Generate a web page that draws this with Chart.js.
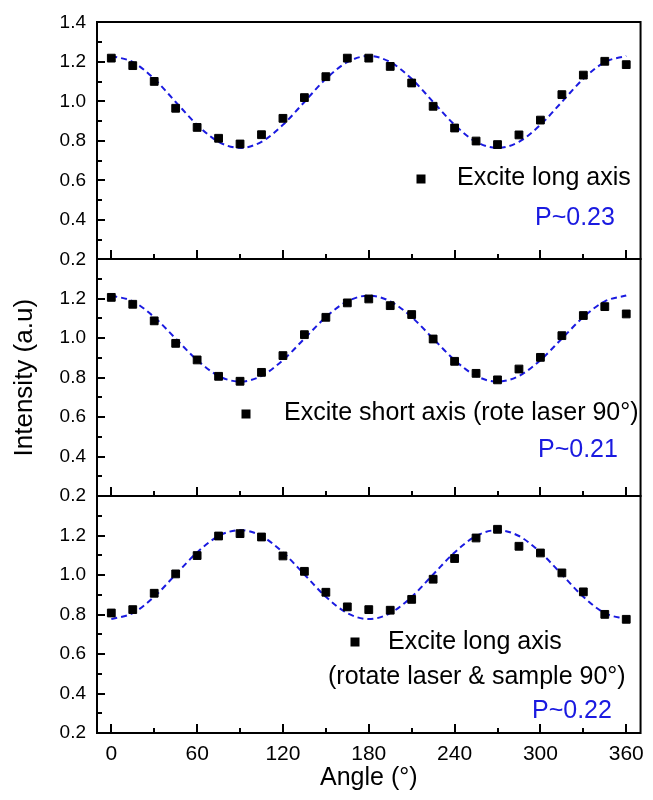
<!DOCTYPE html>
<html>
<head>
<meta charset="utf-8">
<script src="https://cdn.jsdelivr.net/npm/chart.js@4.4.0/dist/chart.umd.min.js"></script>
<style>
  html, body { margin: 0; padding: 0; background: #fff; }
  #wrap { width: 653px; height: 800px; }
</style>
</head>
<body>
<div id="wrap"><canvas id="myChart" width="653" height="800"></canvas></div>
<script>
// Datos
const angles = [0, 15, 30, 45, 60, 75, 90, 105, 120, 135, 150, 165, 180,
  195, 210, 225, 240, 255, 270, 285, 300, 315, 330, 345, 360];

const longAxis = [1.219, 1.181, 1.101, 0.965, 0.868, 0.813, 0.784, 0.831, 0.914, 1.019, 1.125, 1.219, 1.219,
  1.177, 1.093, 0.975, 0.865, 0.799, 0.781, 0.830, 0.905, 1.034, 1.133, 1.203, 1.186];
const shortAxis = [1.207, 1.172, 1.088, 0.974, 0.890, 0.807, 0.782, 0.827, 0.912, 1.018, 1.106, 1.179, 1.199,
  1.165, 1.120, 0.996, 0.883, 0.822, 0.789, 0.844, 0.903, 1.013, 1.115, 1.160, 1.123];
const rotated = [0.808, 0.825, 0.908, 1.006, 1.099, 1.198, 1.210, 1.193, 1.097, 1.019, 0.913, 0.839, 0.825,
  0.822, 0.877, 0.979, 1.084, 1.188, 1.232, 1.146, 1.112, 1.011, 0.915, 0.801, 0.776];

// curvas de ajuste (lineas discontinuas)
const fitLong = [1.230, 1.199, 1.114, 0.997, 0.881, 0.795, 0.764, 0.795, 0.881, 0.997, 1.114, 1.199, 1.230,
  1.199, 1.114, 0.997, 0.881, 0.795, 0.764, 0.795, 0.881, 0.997, 1.114, 1.199, 1.230];
const fitShort = [1.216, 1.187, 1.107, 0.998, 0.889, 0.809, 0.780, 0.809, 0.889, 0.998, 1.107, 1.187, 1.216,
  1.187, 1.107, 0.998, 0.889, 0.809, 0.780, 0.809, 0.889, 0.998, 1.107, 1.187, 1.216];
const fitRotated = [0.777, 0.807, 0.890, 1.003, 1.115, 1.198, 1.228, 1.198, 1.115, 1.003, 0.890, 0.807, 0.777,
  0.807, 0.890, 1.003, 1.115, 1.198, 1.228, 1.198, 1.115, 1.003, 0.890, 0.807, 0.777];

const xTicks = [0, 60, 120, 180, 240, 300, 360];
const xMinor = [30, 90, 150, 210, 270, 330];
const yTicksTop = [0.2, 0.4, 0.6, 0.8, 1.0, 1.2, 1.4];
const yTicks = [0.2, 0.4, 0.6, 0.8, 1.0, 1.2];
const yMinor = [0.3, 0.5, 0.7, 0.9, 1.1, 1.3];

const FONT = "'Liberation Sans', Arial, sans-serif";
const BLUE = '#1a1ae0';

const panels = [
  { id: 'yTop', pts: longAxis, fit: fitLong,
    legend: [{ text: 'Excite long axis', x: 457, y: 178, marker: [421, 179] }],
    p: { text: 'P~0.23', x: 535, y: 218 } },
  { id: 'yMid', pts: shortAxis, fit: fitShort,
    legend: [{ text: 'Excite short axis (rote laser 90°)', x: 284, y: 413, marker: [246, 414] }],
    p: { text: 'P~0.21', x: 538, y: 450 } },
  { id: 'yBot', pts: rotated, fit: fitRotated,
    legend: [{ text: 'Excite long axis', x: 388, y: 642, marker: [355, 642] },
             { text: '(rotate laser & sample 90°)', x: 328, y: 677 }],
    p: { text: 'P~0.22', x: 532, y: 711 } }
];

const toXY = arr => angles.map((a, i) => ({ x: a, y: arr[i] }));

const datasets = [];
panels.forEach(p => {
  datasets.push({
    label: p.legend[0].text,
    data: toXY(p.pts),
    yAxisID: p.id,
    pointStyle: 'rect',
    pointRadius: 5.5,
    backgroundColor: '#000',
    borderColor: '#000',
    borderWidth: 1,
    showLine: false
  });
});
panels.forEach(p => {
  datasets.push({
    label: 'fit',
    data: toXY(p.fit),
    yAxisID: p.id,
    showLine: true,
    pointRadius: 0,
    borderColor: BLUE,
    borderWidth: 2,
    borderDash: [6, 4],
    cubicInterpolationMode: 'monotone'
  });
});

function yAxis(ticks, showTitle) {
  return {
    type: 'linear',
    position: 'left',
    stack: 'panels',
    stackWeight: 1,
    min: 0.2,
    max: 1.4,
    afterBuildTicks: s => { s.ticks = ticks.map(v => ({ value: v })); },
    afterFit: s => { s.width = 97; },
    grid: { display: false, drawTicks: false },
    border: { display: false },
    ticks: {
      color: '#000',
      padding: 11,
      autoSkip: false,
      font: { family: FONT, size: 19 },
      callback: v => v.toFixed(1)
    },
    title: {
      display: showTitle,
      text: 'Intensity (a.u)',
      color: '#000',
      font: { family: FONT, size: 26 },
      padding: { top: 9, bottom: 0 }
    }
  };
}

// marcos, marcas hacia dentro y leyendas
const panelPlugin = {
  id: 'panelPlugin',
  afterDraw(chart) {
    const { ctx, chartArea: { left, right } } = chart;
    const x = chart.scales.x;
    ctx.save();
    ctx.strokeStyle = '#000';
    ctx.lineWidth = 2;
    panels.forEach(p => {
      const y = chart.scales[p.id];
      const top = Math.round(y.top), bottom = Math.round(y.bottom);
      ctx.strokeRect(left, top, right - left, bottom - top);
      ctx.beginPath();
      yTicksTop.forEach(v => { const py = Math.round(y.getPixelForValue(v)); ctx.moveTo(left, py); ctx.lineTo(left + 8, py); });
      yMinor.forEach(v => { const py = Math.round(y.getPixelForValue(v)); ctx.moveTo(left, py); ctx.lineTo(left + 5, py); });
      xTicks.forEach(v => { const px = Math.round(x.getPixelForValue(v)); ctx.moveTo(px, bottom); ctx.lineTo(px, bottom - 9); });
      xMinor.forEach(v => { const px = Math.round(x.getPixelForValue(v)); ctx.moveTo(px, bottom); ctx.lineTo(px, bottom - 5); });
      ctx.stroke();

      ctx.textBaseline = 'middle';
      ctx.textAlign = 'left';
      ctx.font = '25px ' + FONT;
      p.legend.forEach(l => {
        if (l.marker) {
          ctx.fillStyle = '#000';
          ctx.fillRect(l.marker[0] - 4.5, l.marker[1] - 4.5, 9, 9);
        }
        ctx.fillStyle = '#000';
        ctx.fillText(l.text, l.x, l.y);
      });
      ctx.fillStyle = BLUE;
      ctx.fillText(p.p.text, p.p.x, p.p.y);
    });
    ctx.restore();
  }
};

new Chart(document.getElementById('myChart').getContext('2d'), {
  type: 'scatter',
  data: { datasets: datasets },
  options: {
    responsive: false,
    animation: false,
    devicePixelRatio: 1,
    layout: { padding: { top: 22, right: 9, bottom: 0, left: 0 } },
    plugins: { legend: { display: false }, tooltip: { enabled: false } },
    scales: {
      x: {
        type: 'linear',
        min: -10,
        max: 370,
        afterBuildTicks: s => { s.ticks = xTicks.map(v => ({ value: v })); },
        afterFit: s => { s.height = 67; },
        grid: { display: false, drawTicks: false },
        border: { display: false },
        ticks: { color: '#000', padding: 9, maxRotation: 0, autoSkip: false, font: { family: FONT, size: 21 } },
        title: {
          display: true,
          text: 'Angle (°)',
          color: '#000',
          font: { family: FONT, size: 25 },
          padding: { top: 0, bottom: 7 }
        }
      },
      yBot: yAxis(yTicks, false),
      yMid: yAxis(yTicks, true),
      yTop: yAxis(yTicksTop, false)
    }
  },
  plugins: [panelPlugin]
});
</script>
</body>
</html>
